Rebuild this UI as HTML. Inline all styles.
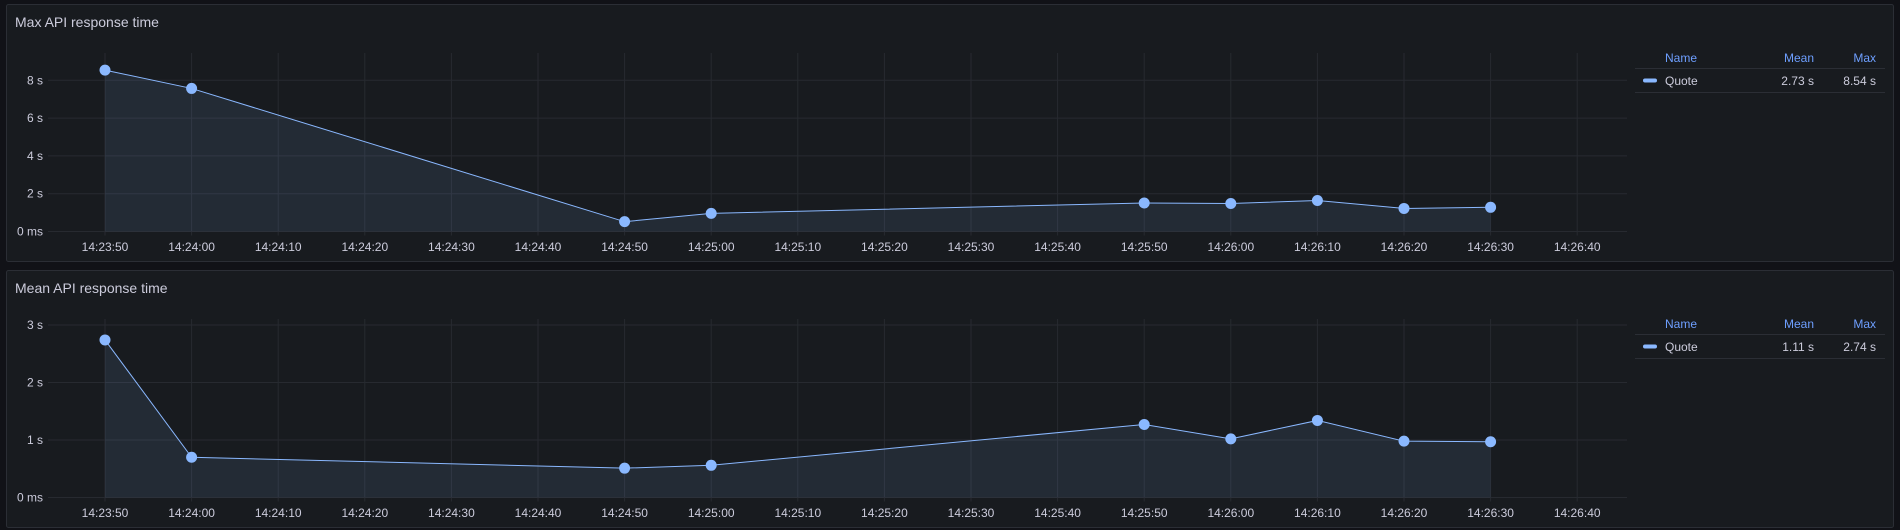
<!DOCTYPE html>
<html><head><meta charset="utf-8">
<style>
body{margin:0;background:#111217;width:1900px;height:530px;overflow:hidden;font-family:"Liberation Sans",sans-serif;}
svg{display:block}
</style></head>
<body>
<svg id="c" width="1900" height="530"></svg>
<script>
const times=["14:23:50","14:24:00","14:24:50","14:25:00","14:25:50","14:26:00","14:26:10","14:26:20","14:26:30"];
const maxValues=[8.54,7.57,0.52,0.96,1.51,1.48,1.64,1.22,1.28];
const meanValues=[2.74,0.70,0.51,0.56,1.27,1.02,1.34,0.98,0.97];
const xTickLabels=["14:23:50","14:24:00","14:24:10","14:24:20","14:24:30","14:24:40","14:24:50","14:25:00","14:25:10","14:25:20","14:25:30","14:25:40","14:25:50","14:26:00","14:26:10","14:26:20","14:26:30","14:26:40"];
const maxYTicks=[0,2,4,6,8];
const meanYTicks=[0,1,2,3];
const maxLegend=["2.73 s","8.54 s"];
const meanLegend=["1.11 s","2.74 s"];

const NS="http://www.w3.org/2000/svg";
const svg=document.getElementById('c');
function mk(tag,attrs,parent){const e=document.createElementNS(NS,tag);for(const k in attrs)e.setAttribute(k,attrs[k]);(parent||svg).appendChild(e);return e;}
function sec(t){const p=t.split(':').map(Number);return p[0]*3600+p[1]*60+p[2];}
const t0=sec("14:23:50");
function xs(t){return 105+(sec(t)-t0)*8.66;}
function fmt(v){return v===0?"0 ms":v+" s";}

function panel(T,title,vals,yTicks,pxPerUnit,legend,key){
  const g=mk('g',{});
  
  
  const bg=mk('rect',{x:6.5,y:T+0.5,width:1887,height:257,rx:2,fill:'#181b1f',stroke:'#2b2e35'},g);
  
  
  const tt=mk('text',{x:15,y:T+23,fill:'#ccccdc','font-size':14},g);tt.textContent=title;
  
  
  const y0=T+227.5, yTop=T+49;
  function ys(v){return y0-v*pxPerUnit;}
  yTicks.forEach(v=>{
    const l=mk('line',{x1:48,x2:1627,y1:ys(v),y2:ys(v),stroke:'#272a30'},g);
    
    
    const tx=mk('text',{x:43,y:ys(v)+4,fill:'#ccccdc','font-size':12,'text-anchor':'end'},g);tx.textContent=fmt(v);
    
    
  });
  xTickLabels.forEach(t=>{
    const x=xs(t);
    const l=mk('line',{x1:x,x2:x,y1:yTop,y2:y0+4,stroke:'#272a30'},g);
    
    
    const tx=mk('text',{x:x,y:T+247,fill:'#ccccdc','font-size':12,'text-anchor':'middle'},g);tx.textContent=t;
    
    
  });
  let d='';vals.forEach((v,i)=>{d+=(i?'L':'M')+xs(times[i])+','+ys(v);});
  const area=mk('path',{d:d+'L'+xs(times[times.length-1])+','+y0+'L'+xs(times[0])+','+y0+'Z',fill:'rgba(138,184,255,0.1)'},g);
  
  
  const line=mk('path',{d:d,fill:'none',stroke:'#8ab8ff','stroke-width':1},g);
  
  
  vals.forEach((v,i)=>{
    const c=mk('circle',{cx:xs(times[i]),cy:ys(v),r:5.5,fill:'#8ab8ff'},g);
    
    
  });
  const lg=mk('g',{},g);
  
  
  const hdr=[["Name",1665,'start'],["Mean",1814,'end'],["Max",1876,'end']];
  hdr.forEach(h=>{const tx=mk('text',{x:h[1],y:T+58,fill:'#6e9fff','font-size':12,'text-anchor':h[2]},lg);tx.textContent=h[0];
    
    });
  mk('line',{x1:1635,x2:1885,y1:T+64.5,y2:T+64.5,stroke:'#2b2e35'},lg);
  mk('line',{x1:1635,x2:1885,y1:T+88.5,y2:T+88.5,stroke:'#2b2e35'},lg);
  const sw=mk('rect',{x:1643,y:T+74.5,width:14,height:4,rx:2,fill:'#8ab8ff'},lg);
  
  
  const nm=mk('text',{x:1665,y:T+81,fill:'#ccccdc','font-size':12},lg);nm.textContent="Quote";
  
  
  const mn=mk('text',{x:1814,y:T+81,fill:'#ccccdc','font-size':12,'text-anchor':'end'},lg);mn.textContent=legend[0];
  
  
  const mx=mk('text',{x:1876,y:T+81,fill:'#ccccdc','font-size':12,'text-anchor':'end'},lg);mx.textContent=legend[1];
  
  
}
panel(4,"Max API response time",maxValues,maxYTicks,18.9,maxLegend,'max');
panel(270,"Mean API response time",meanValues,meanYTicks,57.5,meanLegend,'mean');
</script>
</body></html>
